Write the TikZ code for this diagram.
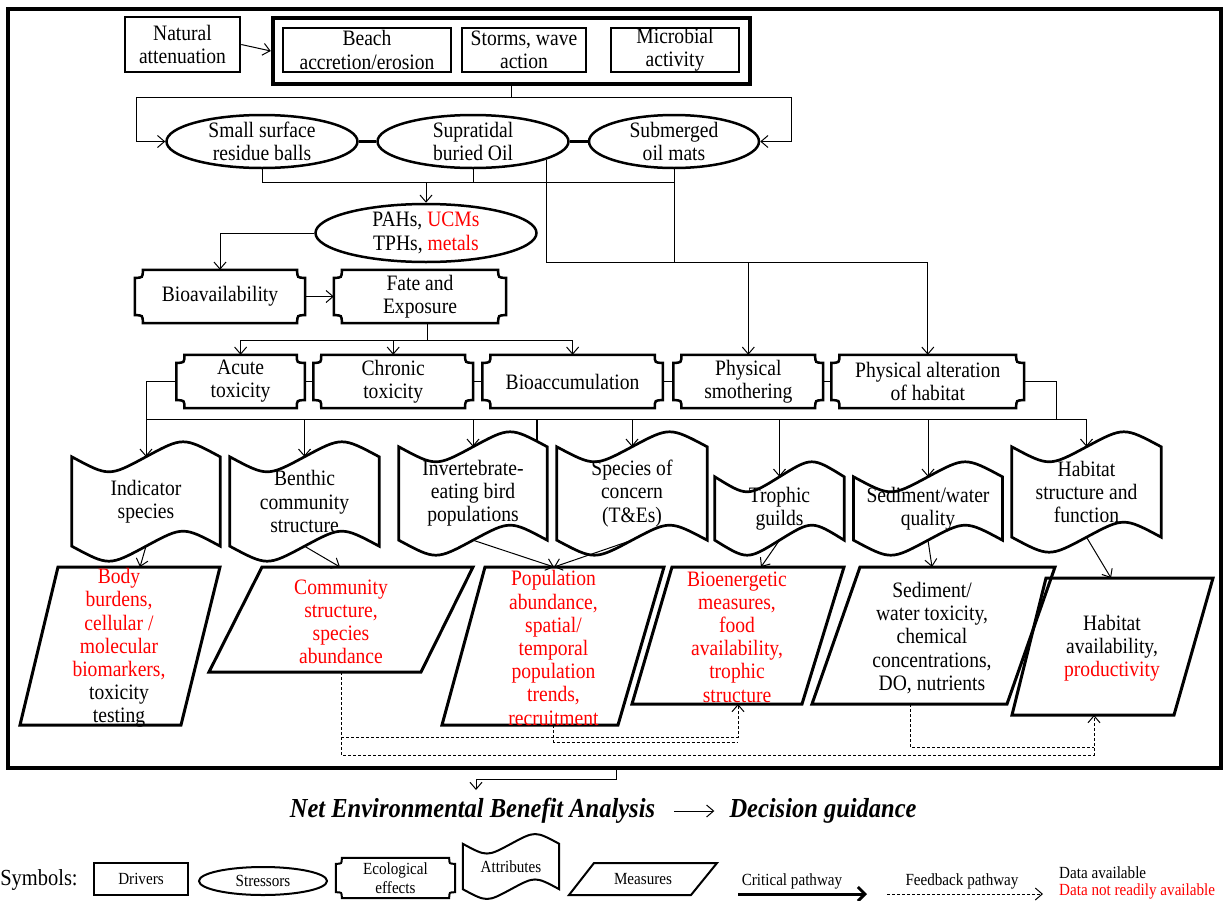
\documentclass[tikz,border=0pt]{standalone}
\usepackage{fontspec}
\setmainfont{Liberation Serif}[FakeStretch=0.89]
\usetikzlibrary{shapes.geometric,arrows.meta,calc}
\newcommand\fsmain{\fontsize{22}{23.2}\selectfont}
\newcommand\fsleg{\fontsize{17}{19}\selectfont}
\newcommand\fssym{\fontsize{23}{25}\selectfont}
\newcommand\fsneba{\fontsize{27.5}{30}\selectfont\bfseries\itshape}
% tape outline: node, wave control offset, style
\newcommand\tapeoutline[3]{\draw[#3] (#1.north west)
 .. controls ($(#1.north west)!0.5!(#1.north)+(0,#2)$) .. (#1.north)
 .. controls ($(#1.north)!0.5!(#1.north east)-(0,#2)$) .. (#1.north east)
 -- (#1.south east)
 .. controls ($(#1.south east)!0.5!(#1.south)-(0,#2)$) .. (#1.south)
 .. controls ($(#1.south)!0.5!(#1.south west)+(0,#2)$) .. (#1.south west)
 -- cycle;}
% plaque outline: node, corner radius, style
\newcommand\plaqueoutline[3]{\draw[#3] ([xshift=#2]#1.north west) -- ([xshift=-#2]#1.north east)
 .. controls ([xshift=-#2,yshift=-#2]#1.north east) .. ([yshift=-#2]#1.north east)
 -- ([yshift=#2]#1.south east)
 .. controls ([xshift=-#2,yshift=#2]#1.south east) .. ([xshift=-#2]#1.south east)
 -- ([xshift=#2]#1.south west)
 .. controls ([xshift=#2,yshift=#2]#1.south west) .. ([yshift=#2]#1.south west)
 -- ([yshift=-#2]#1.north west)
 .. controls ([xshift=#2,yshift=-#2]#1.north west) .. ([xshift=#2]#1.north west) -- cycle;}
\tikzset{
 conn/.style={line width=1pt},
 arr/.style={conn,-{Straight Barb[length=7pt,width=12pt]}},
 drv/.style={draw, rectangle, line width=2.5pt, inner sep=0pt, align=center, font=\fsmain},
 grp/.style={draw, rectangle, line width=4.5pt, inner sep=0pt},
 str/.style={draw, ellipse, line width=2.5pt, inner sep=0pt},
 txt/.style={inner sep=0pt, align=center, font=\fsmain},
 plq/.style={inner sep=0pt, align=center, font=\fsmain},
 plqline/.style={line width=2.5pt},
 tbox/.style={inner sep=0pt, align=center, font=\fsmain},
 tline/.style={line width=2.7pt},
 meas/.style={line width=3pt, line join=miter},
 thickc/.style={line width=3pt},
 fb/.style={line width=1pt, dash pattern=on 3pt off 2pt},
 fbarr/.style={fb,-{Straight Barb[length=7pt,width=12pt]}},
 critarr/.style={line width=3pt,-{Straight Barb[length=7pt,width=14pt]}},
 neba/.style={inner sep=0pt, font=\fsneba},
}
\begin{document}
\begin{tikzpicture}[x=1pt,y=-1pt]
\useasboundingbox (0,0) rectangle (1224,900);
% outer frame
\node[draw, line width=3.5pt, minimum width=1213pt, minimum height=759pt, inner sep=0pt] (frame) at (614.5,388.5) {};
% drivers
\node[drv, minimum width=115pt, minimum height=55pt] (nat) at (182.5,44.5) {Natural\\attenuation};
\node[grp, minimum width=477pt, minimum height=66pt] (grp) at (511.5,51) {};
\node[drv, minimum width=168pt, minimum height=44pt] (beach) at (367,50) {Beach\\accretion/erosion};
\node[drv, minimum width=124pt, minimum height=44pt] (storm) at (524,50) {Storms, wave\\action};
\node[drv, minimum width=128pt, minimum height=44pt] (micro) at (675,50) {Microbial\\activity};
\draw[arr] (nat.east) -- (grp.west);
% stressors
\node[str, minimum width=191pt, minimum height=53pt] (e1) at (262,141.5) {};
\node[txt] (e1t) at (e1) {Small surface\\residue balls};
\node[str, minimum width=191pt, minimum height=53pt] (e2) at (473,141.5) {};
\node[txt] (e2t) at (e2) {Supratidal\\buried Oil};
\node[str, minimum width=170pt, minimum height=53pt] (e3) at (674,141.5) {};
\node[txt] (e3t) at (e3) {Submerged\\oil mats};
\node[str, minimum width=221pt, minimum height=58pt] (pah) at (426,233) {};
\node[txt] (paht) at (pah) {PAHs, \textcolor{red}{UCMs}\\TPHs, \textcolor{red}{metals}};
\coordinate (tl) at (136,97);
\coordinate (tr) at (791,97);
\draw[conn] (grp.south) -- (grp.south |- tl);
\draw[conn] (tl) -- (tr);
\draw[arr] (tl) |- (e1.west);
\draw[arr] (tr) |- (e3.east);
\draw[thickc] (e1.east) -- (e2.west);
\draw[thickc] (e2.east) -- (e3.west);
\coordinate (ebar) at (0,182);
\coordinate (pbar) at (0,262);
\draw[conn] (e1.south) -- (e1.south |- ebar) -- (e3.south |- ebar);
\draw[conn] (e2.south) -- (e2.south |- ebar);
\draw[conn] (e3.south) -- (e3.south |- pbar);
\draw[arr] (pah.north |- ebar) -- (pah.north);
% ecological effects
\node[plq, minimum width=170pt, minimum height=53pt] (bioav) at (220,296.5) {Bioavailability};
\node[plq, minimum width=172pt, minimum height=53pt] (fate) at (420,296.5) {Fate and\\Exposure};
\node[plq, minimum width=128pt, minimum height=53pt] (acute) at (240.6,381.5) {Acute\\toxicity};
\node[plq, minimum width=159.5pt, minimum height=53pt] (chronic) at (393.2,381.5) {Chronic\\toxicity};
\node[plq, minimum width=180pt, minimum height=53pt] (bioacc) at (572.6,381.5) {Bioaccumulation};
\node[plq, minimum width=149.4pt, minimum height=53pt] (smother) at (748.3,381.5) {Physical\\smothering};
\node[plq, minimum width=192.4pt, minimum height=53pt] (physalt) at (927.8,381.5) {Physical alteration\\of habitat};
\foreach \n in {bioav,fate,acute,chronic,bioacc,smother,physalt} {\plaqueoutline{\n}{8pt}{plqline}}
\draw[conn] (e2.346) -- (e2.346 |- pbar) -- (physalt.north |- pbar);
\draw[arr] (smother.north |- pbar) -- (smother.north);
\draw[arr] (physalt.north |- pbar) -- (physalt.north);
\draw[arr] (pah.west) -| (bioav.north);
\draw[arr] (bioav.east) -- (fate.west);
\coordinate (fbar) at (0,340);
\draw[conn] ([xshift=7pt]fate.south) -- ([xshift=7pt]fate.south |- fbar);
\draw[conn] (acute.north |- fbar) -- (bioacc.north |- fbar);
\foreach \n in {acute,chronic,bioacc} {\draw[arr] (\n.north |- fbar) -- (\n.north);}
\draw[conn] (acute.east) -- (chronic.west);
\draw[conn] (chronic.east) -- (bioacc.west);
\draw[conn] (bioacc.east) -- (smother.west);
\draw[conn] (smother.east) -- (physalt.west);
% attributes
\node[tbox, minimum width=148pt, minimum height=89pt] (ind) at (146,501.5) {Indicator\\species};
\node[tbox, minimum width=149pt, minimum height=89pt] (ben) at (304.5,501.5) {Benthic\\community\\structure};
\node[tbox, minimum width=148pt, minimum height=93pt] (inv) at (473,493.5) {Invertebrate-\\eating bird\\populations};
\node[tbox, minimum width=150pt, minimum height=93pt] (spc) at (632,493.5) {Species of\\concern\\(T\&Es)};
\node[tbox, minimum width=129pt, minimum height=63pt] (tro) at (779.5,508.5) {Trophic\\guilds};
\node[tbox, minimum width=148.5pt, minimum height=63pt] (sed) at (928,508.5) {Sediment/water\\quality};
\node[tbox, minimum width=149pt, minimum height=90pt] (hab) at (1086.5,492) {Habitat\\structure and\\function};
\foreach \n in {ind,ben,inv,spc,tro,sed,hab} {\tapeoutline{\n}{20}{tline}}
\coordinate (hbar) at (0,419);
\coordinate (rdrop) at (1056,419);
\draw[conn] (acute.west) -| (ind.north |- hbar) -- (hab.north |- hbar);
\draw[conn] (physalt.east) -| (rdrop);
\foreach \n in {ind,ben,inv,spc,tro,sed,hab} {\draw[arr] (\n.north |- hbar) -- (\n.north);}
\coordinate (stubA) at (537,419);
\coordinate (stubB) at (537,440);
\draw[line width=1.6pt] (stubA) -- (stubB);
% measures
\draw[meas] (58,567) -- (220,567) -- (181,725) -- (20,725) -- cycle;
\draw[meas] (262,567) -- (473,567) -- (421,672) -- (209,672) -- cycle;
\draw[meas] (485,567) -- (664,567) -- (618,725) -- (442,725) -- cycle;
\draw[meas] (672,567) -- (844,567) -- (802,704) -- (632,704) -- cycle;
\draw[meas] (860,567) -- (1055,567) -- (1007,704) -- (812,704) -- cycle;
\draw[meas] (1046,578) -- (1213,578) -- (1174,715) -- (1012,715) -- cycle;
\node[txt] (m1) at (119,648) {\textcolor{red}{Body}\\\textcolor{red}{burdens,}\\\textcolor{red}{cellular /}\\\textcolor{red}{molecular}\\\textcolor{red}{biomarkers,}\\toxicity\\testing};
\node[txt, text=red] (m2) at (341,622) {Community\\structure,\\species\\abundance};
\node[txt, text=red] (m3) at (553.5,648) {Population\\abundance,\\spatial/\\temporal\\population\\trends,\\recruitment};
\node[txt, text=red] (m4) at (737,637) {Bioenergetic\\measures,\\food\\availability,\\trophic\\structure};
\node[txt] (m5) at (932,638) {Sediment/\\water toxicity,\\chemical\\concentrations,\\DO, nutrients};
\node[txt] (m6) at (1112,648) {Habitat\\availability,\\\textcolor{red}{productivity}};
\coordinate (m1in) at (140,567);
\coordinate (m2in) at (340,567);
\coordinate (m3in) at (554,567);
\coordinate (m4in) at (761,567);
\coordinate (m5in) at (932,567);
\coordinate (m6in) at (1111,578);
\draw[arr] (ind.south) -- (m1in);
\draw[arr] (ben.south) -- (m2in);
\draw[arr] (inv.south) -- (m3in);
\draw[arr] (spc.south) -- (m3in);
\draw[arr] (tro.south) -- (m4in);
\draw[arr] (sed.south) -- (m5in);
\draw[arr] (hab.south) -- (m6in);
% feedback pathways
\coordinate (f1) at (341,672);
\coordinate (f2) at (1094,715);
\coordinate (f3) at (738,704);
\coordinate (f4) at (553.5,725);
\coordinate (f5) at (910,704);
\coordinate (d1) at (0,755);
\coordinate (d2) at (0,737);
\coordinate (d3) at (0,742);
\coordinate (d4) at (0,747);
\draw[fbarr] (f1) -- (f1 |- d1) -- (f2 |- d1) -- (f2);
\draw[fbarr] (f1 |- d2) -- (f3 |- d2) -- (f3);
\draw[fb] (f4) -- (f4 |- d3) -- (f3 |- d3);
\draw[fb] (f5) -- (f5 |- d4) -- (f2 |- d4);
% outcome
\node[neba] (neba) at (472.5,811) {Net Environmental Benefit Analysis};
\node[neba] (dec) at (823,811) {Decision guidance};
\draw[arr, shorten <=19pt, shorten >=15pt] (neba.east) -- (dec.west);
\coordinate (nb1) at (616,0);
\coordinate (yb) at (0,779);
\coordinate (na) at (476,790);
\draw[arr] (frame.south -| nb1) -- (nb1 |- yb) -- (na |- yb) -- (na);
% legend
\node[txt, font=\fssym] (sym) at (39,880) {Symbols:};
\node[drv, line width=2pt, minimum width=94pt, minimum height=32pt, font=\fsleg] (ldrv) at (141,879) {Drivers};
\node[str, line width=2pt, minimum width=128pt, minimum height=28pt] (lstr) at (263,881) {};
\node[txt, font=\fsleg] (lstrt) at (lstr) {Stressors};
\node[plq, minimum width=119pt, minimum height=40pt, font=\fsleg] (leco) at (395.5,878) {Ecological\\effects};
\plaqueoutline{leco}{6pt}{line width=2pt}
\node[tbox, minimum width=96pt, minimum height=45pt, font=\fsleg] (latt) at (511,866.5) {Attributes};
\tapeoutline{latt}{13}{line width=2pt}
\draw[line width=2pt] (594,863) -- (717,863) -- (691,895) -- (569,895) -- cycle;
\node[txt, font=\fsleg] (lmeas) at (643,879) {Measures};
\node[txt, font=\fsleg] (lcrit) at (792,881) {Critical pathway};
\coordinate (c1) at (738,894);
\coordinate (c2) at (867,894);
\draw[critarr] (c1) -- (c2);
\node[txt, font=\fsleg] (lfb) at (962,881) {Feedback pathway};
\coordinate (c3) at (887,894);
\coordinate (c4) at (1043,894);
\draw[fbarr] (c3) -- (c4);
\node[txt, font=\fsleg, anchor=west] (lda) at (1059,873) {Data available};
\node[txt, font=\fsleg, anchor=west, text=red] (ldn) at (1059,891) {Data not readily available};
\end{tikzpicture}
\end{document}
